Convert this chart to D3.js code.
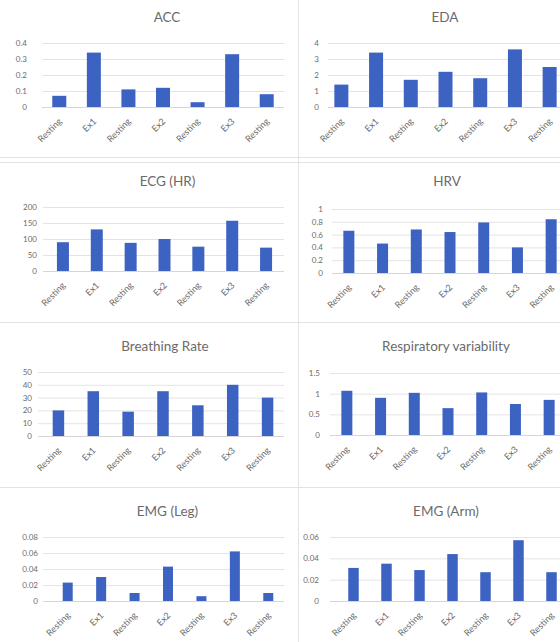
<!DOCTYPE html>
<html>
<head>
<meta charset="utf-8">
<script src="https://cdn.jsdelivr.net/npm/d3@7"></script>
<style>
  html, body { margin: 0; padding: 0; background: #ffffff; }
  svg { display: block; }
  .title { font-family: Lato, "Open Sans", sans-serif; fill: #6b6b6b; }
  .tick text { font-family: Lato, "Open Sans", sans-serif; fill: #6b6b6b; }
</style>
</head>
<body>
<svg id="chart" width="560" height="642"></svg>
<script>
// Session categories shared by every panel
const categories = ["Resting", "Ex1", "Resting", "Ex2", "Resting", "Ex3", "Resting"];

// Panel titles
const titles = ["ACC", "EDA", "ECG (HR)", "HRV", "Breathing Rate", "Respiratory variability", "EMG (Leg)", "EMG (Arm)"];

// Measured values per signal
const accValues     = [0.07, 0.34, 0.11, 0.12, 0.03, 0.33, 0.08];
const edaValues     = [1.4, 3.4, 1.7, 2.2, 1.8, 3.6, 2.5];
const hrValues      = [90, 130, 88, 100, 76, 157, 73];
const hrvValues     = [0.66, 0.46, 0.68, 0.64, 0.79, 0.40, 0.84];
const breathValues  = [20, 35, 19, 35, 24, 40, 30];
const respVarValues = [1.07, 0.90, 1.02, 0.65, 1.03, 0.75, 0.85];
const emgLegValues  = [0.023, 0.030, 0.010, 0.043, 0.006, 0.062, 0.010];
const emgArmValues  = [0.031, 0.035, 0.029, 0.044, 0.027, 0.057, 0.027];

// Y-axis tick values per signal
const accTicks     = [0, 0.1, 0.2, 0.3, 0.4];
const edaTicks     = [0, 1, 2, 3, 4];
const hrTicks      = [0, 50, 100, 150, 200];
const hrvTicks     = [0, 0.2, 0.4, 0.6, 0.8, 1];
const breathTicks  = [0, 10, 20, 30, 40, 50];
const respVarTicks = [0, 0.5, 1, 1.5];
const emgLegTicks  = [0, 0.02, 0.04, 0.06, 0.08];
const emgArmTicks  = [0, 0.02, 0.04, 0.06];

const seriesList = [accValues, edaValues, hrValues, hrvValues, breathValues, respVarValues, emgLegValues, emgArmValues];
const tickList   = [accTicks, edaTicks, hrTicks, hrvTicks, breathTicks, respVarTicks, emgLegTicks, emgArmTicks];

// Panel geometry: plot band range, grid start/end, label gap, bar width, top/bottom of value axis, title y
const layout = [
  { x0: 42,  x1: 284, g0: 42,  g1: 284, gap: 15, bw: 14,   top: 43,  base: 107, ty: 22 },
  { x0: 324, x1: 567, g0: 328, g1: 562, gap: 9,  bw: 14,   top: 43,  base: 107, ty: 22 },
  { x0: 46,  x1: 283, g0: 43,  g1: 284, gap: 6,  bw: 12,   top: 207, base: 271, ty: 186 },
  { x0: 332, x1: 568, g0: 332, g1: 562, gap: 9,  bw: 11,   top: 209, base: 273, ty: 186 },
  { x0: 41,  x1: 285, g0: 38,  g1: 284, gap: 6,  bw: 11.5, top: 372, base: 436, ty: 351 },
  { x0: 330, x1: 566, g0: 330, g1: 562, gap: 10, bw: 11,   top: 373, base: 435, ty: 351 },
  { x0: 51,  x1: 285, g0: 43,  g1: 284, gap: 5,  bw: 10,   top: 537, base: 601, ty: 516 },
  { x0: 337, x1: 568, g0: 330, g1: 562, gap: 11, bw: 10.5, top: 537, base: 601, ty: 516 }
];

const svg = d3.select("#chart");

// Faint panel frames
const frame = svg.append("g").attr("stroke", "#e3e3e3").attr("stroke-width", 1);
[157.5, 162.5, 322.5, 487.5].forEach(y =>
  frame.append("line").attr("x1", 0).attr("x2", 560).attr("y1", y).attr("y2", y));
frame.append("line").attr("x1", 298.5).attr("x2", 298.5).attr("y1", 0).attr("y2", 642);

layout.forEach((L, i) => {
  const values = seriesList[i];
  const ticks = tickList[i];
  const g = svg.append("g");

  const x = d3.scaleBand().domain(d3.range(categories.length)).range([L.x0, L.x1]);
  const y = d3.scaleLinear().domain([0, d3.max(ticks)]).range([L.base, L.top]);

  // Title
  g.append("text")
    .attr("class", "title")
    .attr("x", (L.g0 + L.g1) / 2 + (i % 2 === 0 ? 4 : 0))
    .attr("y", L.ty)
    .attr("text-anchor", "middle")
    .attr("font-size", 13.5)
    .text(titles[i]);

  // Y axis with horizontal gridlines
  const yAxis = g.append("g")
    .attr("transform", `translate(${L.g0},0)`)
    .call(d3.axisLeft(y).tickValues(ticks).tickFormat(d => String(d))
      .tickSize(-(L.g1 - L.g0)).tickPadding(L.gap));
  yAxis.select(".domain").remove();
  yAxis.selectAll(".tick line").attr("stroke", "#e4e4e4");
  yAxis.selectAll(".tick text").attr("font-size", 8);

  // Bars
  g.append("g").selectAll("rect")
    .data(values)
    .join("rect")
    .attr("x", (d, k) => x(k) + x.bandwidth() / 2 - L.bw / 2)
    .attr("width", L.bw)
    .attr("y", d => y(d))
    .attr("height", d => y(0) - y(d))
    .attr("fill", "#3d63c2");

  // Baseline
  g.append("line")
    .attr("x1", L.g0).attr("x2", L.g1)
    .attr("y1", y(0) + 0.5).attr("y2", y(0) + 0.5)
    .attr("stroke", "#d6d6d6");

  // Category labels, rotated
  const xAxis = g.append("g")
    .attr("transform", `translate(0,${L.base})`)
    .call(d3.axisBottom(x).tickFormat(k => categories[k]).tickSize(0).tickPadding(0));
  xAxis.select(".domain").remove();
  xAxis.selectAll(".tick text")
    .attr("font-size", 9)
    .attr("text-anchor", "end")
    .attr("y", 0)
    .attr("dy", 0)
    .attr("transform", "translate(3,15) rotate(-45)");
});
</script>
</body>
</html>
